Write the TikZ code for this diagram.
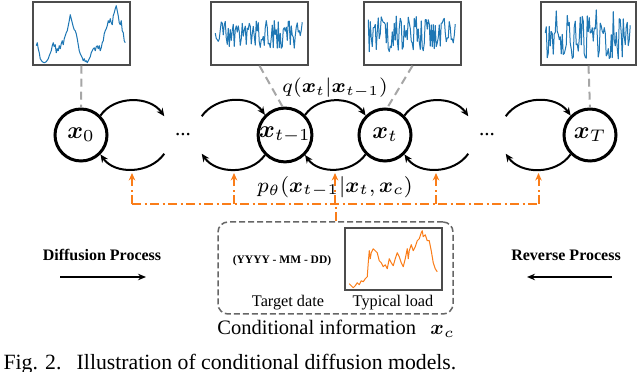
\documentclass[tikz,border=0pt]{standalone}
\usepackage{fix-cm}
\usepackage{amsmath}
\usepackage[no-math]{fontspec}
\setmainfont{Liberation Serif}
\usetikzlibrary{arrows.meta,calc}

\definecolor{mplblue}{RGB}{31,119,180}
\definecolor{mplorange}{RGB}{250,125,25}

\begin{document}
\begin{tikzpicture}[x=0.4pt, y=0.4pt, >=Stealth,
    state/.style={circle, draw, line width=1.2pt, minimum size=20.8pt, inner sep=0pt,
      font=\fontsize{9.6}{11}\selectfont},
    gap/.style={circle, minimum size=20.8pt, inner sep=0pt, font=\fontsize{8.5}{10}\selectfont},
    trans/.style={->, line width=0.8pt, >={Stealth[length=3.2pt,width=2.8pt]}},
    snap/.style={draw=black!70, line width=0.6pt, minimum width=38.8pt, minimum height=25.2pt,
      inner sep=0pt},
    series/.style={line width=0.4pt, line join=round},
    link/.style={black!35, line width=0.8pt, dash pattern=on 3.2pt off 2pt},
    condline/.style={mplorange, line width=0.8pt,
      dash pattern=on 3.6pt off 1.4pt on 0.8pt off 1.4pt, >={Stealth[length=3pt,width=2.6pt]}},
    flow/.style={->, line width=0.8pt, >={Stealth[length=3.2pt,width=2.6pt]}},
    tag/.style={font=\bfseries\fontsize{6.4}{8}\selectfont}]

  \useasboundingbox (0,0) rectangle (640,372);

  % --- Markov chain states ---
  \node[state] (x0)   at (81,237)  {$\boldsymbol{x}_0$};
  \node[gap]   (d1)   at (183,237) {...};
  \node[state] (xtm1) at (285,237) {$\boldsymbol{x}_{t-1}$};
  \node[state] (xt)   at (385,237) {$\boldsymbol{x}_t$};
  \node[gap]   (d2)   at (487,237) {...};
  \node[state] (xT)   at (590,237) {$\boldsymbol{x}_T$};

  % --- forward (top) and reverse (bottom) transitions ---
  \foreach \a/\b [count=\i] in {x0/d1, d1/xtm1, xtm1/xt, xt/d2, d2/xT} {
    \draw[trans] (\a.45) to[out=55, in=125] (\b.135);
    \draw[trans] (\b.-135) to[out=-125, in=-55] (\a.-45);
    \coordinate (r\i) at ($(\a)!0.5!(\b)+(0,-38)$);
  }

  \node[font=\fontsize{7.8}{9}\selectfont] (q) at (335,284)
    {$q(\boldsymbol{x}_t|\boldsymbol{x}_{t-1})$};

  % --- sample snapshots ---
  \node[snap] (s0) at (81.5,338.5) {};
  \node[snap] (s1) at (259.5,338.5) {};
  \node[snap] (s2) at (412.5,338.5) {};
  \node[snap, minimum width=38pt] (s3) at (588.5,338.5) {};

  \begin{scope}[shift={(s0.south west)}]
    \draw[series, mplblue] plot coordinates {(4,20) (5,23) (6,17) (7,13) (8,7) (10,4) (12,3)
      (14,4) (16,7) (17,10) (19,15) (20,20) (21,23) (22,19) (23,21) (24,13) (25,17) (26,15)
      (27,20) (28,17) (29,22) (30,25) (31,21) (32,27) (33,30) (34,33) (35,35) (36,40) (37,45)
      (38,51) (39,47) (40,43) (41,39) (42,36) (43,35) (44,32) (45,27) (46,21) (47,15) (48,12)
      (49,10) (50,8) (51,5) (52,7) (53,4) (54,5) (55,3) (56,5) (57,7) (58,9) (59,13) (60,15)
      (61,17) (62,18) (63,15) (64,19) (65,20) (66,17) (67,20) (68,15) (69,18) (70,23) (71,25)
      (72,32) (73,35) (74,37) (75,40) (76,45) (77,43) (78,47) (79,43) (80,41) (81,50) (82,53)
      (83,57) (84,60) (85,55) (86,50) (87,43) (88,41) (89,45) (90,35) (91,33) (92,25) (93,23)};
  \end{scope}

  \pgfmathsetseed{11}
  \begin{scope}[shift={(s1.south west)}]
    \draw[series, mplblue] plot[domain=5:92, samples=88]
      (\x, {32+15*rand+22*(abs(\x-56)<0.6)});
  \end{scope}
  \begin{scope}[shift={(s2.south west)}]
    \draw[series, mplblue] plot[domain=5:92, samples=88] (\x, {32+18*rand});
  \end{scope}
  \begin{scope}[shift={(s3.south west)}]
    \draw[series, mplblue] plot[domain=5:90, samples=86] (\x, {31+25*rand});
  \end{scope}

  \draw[link] (s0.south) -- (x0.north);
  \draw[link] (s1.south) -- (xtm1.95);
  \draw[link] (s2.south) -- (xt.85);
  \draw[link] (s3.south) -- (xT.north);

  % --- conditional information ---
  \node[draw=black!60, line width=0.6pt, dash pattern=on 2.4pt off 1.2pt, rounded corners=4pt,
    minimum width=94pt, minimum height=36.8pt] (condbox) at (335.5,104) {};
  \node[snap, minimum height=24.8pt] (load) at (393.5,113) {};
  \begin{scope}[shift={(load.south west)}]
    \draw[series, mplorange] plot coordinates {(5,7) (7,5) (9,3) (11,5) (13,8) (15,6) (17,10)
      (19,9) (21,12) (23,14) (24,28) (25,40) (26,32) (27,38) (29,42) (31,40) (33,38) (35,30)
      (37,28) (39,24) (41,26) (43,22) (45,32) (47,28) (49,25) (51,32) (53,38) (55,34) (57,28)
      (59,24) (61,32) (63,42) (64,32) (65,40) (67,46) (69,40) (71,44) (73,50) (75,52) (77,58)
      (78,60) (79,54) (81,56) (83,50) (85,50) (87,40) (89,28) (91,22) (93,19)};
  \end{scope}
  \node[font=\bfseries\fontsize{4.6}{6}\selectfont] (date) at (282,111) {(YYYY - MM - DD)};
  \node[font=\fontsize{6.5}{8}\selectfont] (datetxt) at (288,69) {Target date};
  \node[font=\fontsize{6.5}{8}\selectfont] (loadtxt) at (393,69) {Typical load};
  \node[font=\fontsize{8.2}{10}\selectfont] (condtxt) at (336,43)
    {Conditional information\hspace{0.7em}$\boldsymbol{x}_c$};

  % --- conditioning paths ---
  \draw[condline] (condbox.north) -- ++(0,17) coordinate (bus);
  \draw[condline] (bus -| r1) -- (bus -| r5);
  \foreach \i in {1,...,5}
    \draw[condline, ->] (bus -| r\i) -- (r\i);

  \node[font=\fontsize{8.5}{10}\selectfont] (p) at (335,185)
    {$p_\theta(\boldsymbol{x}_{t-1}|\boldsymbol{x}_t,\boldsymbol{x}_c)$};

  % --- process directions ---
  \node[tag] (fwdtag) at (102,117) {Diffusion Process};
  \node[tag] (revtag) at (566,117) {Reverse Process};
  \coordinate (fa) at (60,95);
  \coordinate (fb) at (146,95);
  \coordinate (ra) at (612,95);
  \coordinate (rb) at (527,95);
  \draw[flow] (fa) -- (fb);
  \draw[flow] (ra) -- (rb);

  % --- caption ---
  \node[anchor=base west, inner sep=0pt, font=\fontsize{8.7}{10}\selectfont] (cap) at (3,2)
    {Fig. 2.\hspace{0.7em}Illustration of conditional diffusion models.};

\end{tikzpicture}
\end{document}
